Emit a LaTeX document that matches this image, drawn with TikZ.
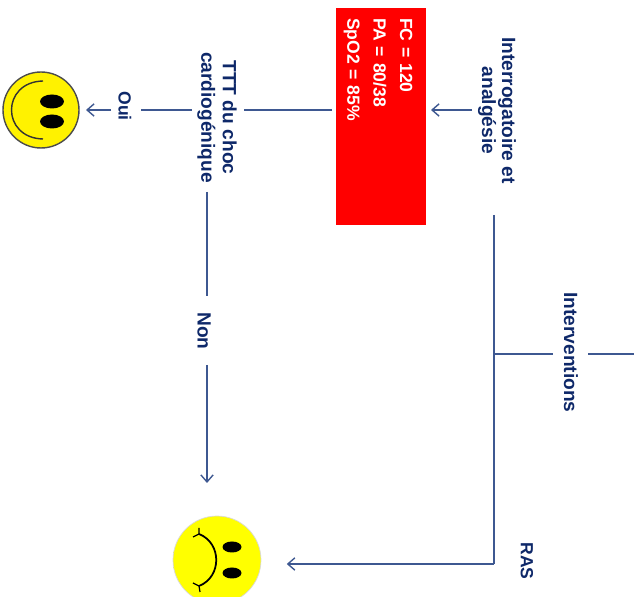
\documentclass[tikz,border=0pt]{standalone}
\usepackage{fontspec}
\setmainfont{Liberation Sans}
\usetikzlibrary{arrows.meta}
\definecolor{texte}{RGB}{14,40,105}
\definecolor{trait}{RGB}{62,88,145}
\pgfdeclareradialshading{boule}{\pgfpoint{-0.3cm}{-0.3cm}}{color(0cm)=(yellow); color(1.0cm)=(yellow); color(1.45cm)=(yellow!80!white); color(1.75cm)=(yellow!45!gray!55!white)}
\tikzset{
    etiquette/.style={rotate=-90,align=center,text=texte,inner sep=0pt,font=\fontsize{10.9}{11.4}\selectfont\bfseries},
    petite/.style={font=\fontsize{10}{11.4}\selectfont\bfseries},
    fleche/.style={draw=trait,line width=0.8pt,->,>={Straight Barb[length=4pt,width=7pt]}},
    ligne/.style={draw=trait,line width=0.8pt}
}
\begin{document}
\begin{tikzpicture}[x=0.02cm,y=-0.02cm]
    \useasboundingbox (0,0) rectangle (643,597);
    % Cadre rouge
    \node[fill=red,rotate=-90,minimum width=4.34cm,minimum height=1.82cm,inner sep=0pt] (cadre) at (381,116.5) {};
    \node[rotate=-90,text width=3.94cm,inner sep=0pt,align=left,text=white,font=\fontsize{10}{15}\selectfont\bfseries] (constantes) at (378,116.5) {FC = 120\\PA = 80/38\\SpO2 = 85\%};
    % Textes
    \node[etiquette] (interrogatoire) at (497,110.5) {Interrogatoire et\\analgésie};
    \node[etiquette,font=\fontsize{10.9}{12.2}\selectfont\bfseries] (ttt) at (217,117.5) {TTT du choc\\cardiogénique};
    \node[etiquette,petite] (oui) at (125,106) {Oui};
    \node[etiquette] (non) at (204,331) {Non};
    \node[etiquette] (interventions) at (571,352.5) {Interventions};
    \node[etiquette,petite] (ras) at (527,561) {RAS};
    % Visages
    \node[circle,fill=yellow,draw=black!70,line width=0.8pt,minimum size=1.52cm,inner sep=0pt] (content) at (41,110) {};
    \fill (52,101.5) circle[x radius=12,y radius=7];
    \fill (52,121.5) circle[x radius=12,y radius=7];
    \draw[line width=0.8pt,black!80] (43,81) .. controls (1,82) and (1,138) .. (43,139);
    \node[circle,shading=boule,draw=black!15,minimum size=1.76cm,inner sep=0pt] (triste) at (217,560) {};
    \fill (232,547) circle[x radius=9.5,y radius=5.5];
    \fill (232,573) circle[x radius=9.5,y radius=5.5];
    \draw[line width=1pt] (199,534) .. controls (222,543) and (222,577) .. (199,586);
    \draw[line width=0.7pt] (193,537)--(199,534)--(199,528);
    \draw[line width=0.7pt] (193,583)--(199,586)--(200,592);
    % Points de passage
    \coordinate (depart) at (494,215);
    \coordinate (milieu) at (494,354);
    \coordinate (coin) at (494,564);
    \coordinate (bord) at (634,354);
    % Liaisons
    \draw[ligne] (depart)--(coin);
    \draw[fleche,shorten >=1pt] (coin)--(285,564);
    \draw[ligne] (milieu)--(553,354);
    \draw[ligne] (588,354)--(bord);
    \draw[fleche] (472,110)--(431,110);
    \draw[ligne] (332,110)--(244,110);
    \draw[ligne] (192,110)--(141,110);
    \draw[fleche] (111,110)--(86,110);
    \draw[ligne] (207,192)--(207,296);
    \draw[fleche] (207,365)--(207,483);
\end{tikzpicture}
\end{document}
